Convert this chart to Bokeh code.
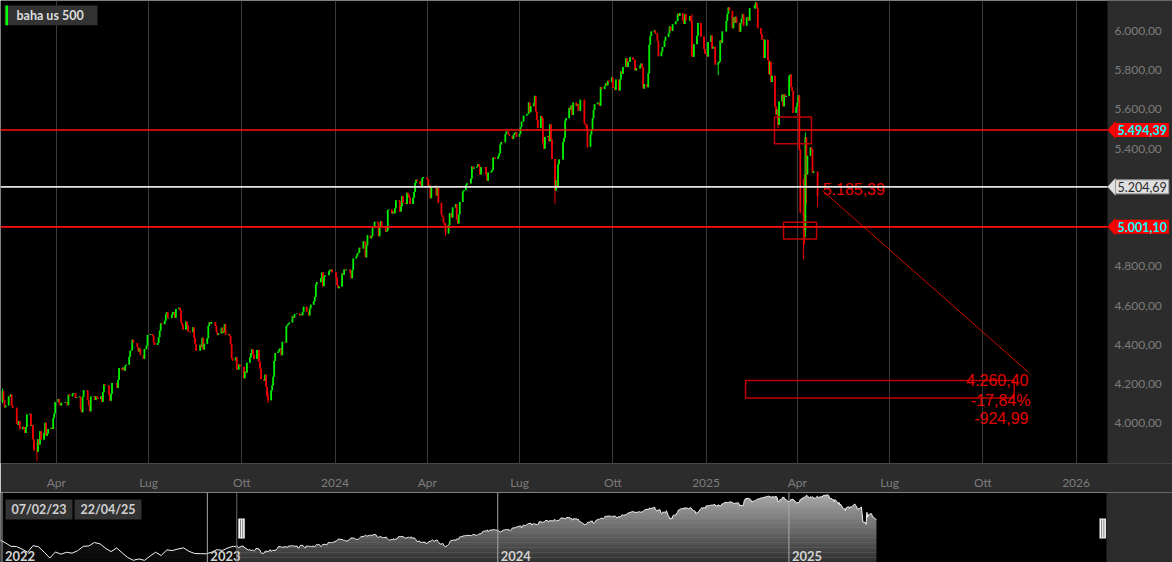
import numpy as np
import pandas as pd
from bokeh.plotting import figure
from bokeh.layouts import column
from bokeh.models import (ColumnDataSource, Span, Label, BoxAnnotation, PolyAnnotation,
                          FixedTicker, CustomJSTickFormatter, Range1d)
from bokeh.embed import file_html
from bokeh.resources import INLINE
from bokeh.core.properties import value

# ---------------- data ----------------
instrument = "baha us 500"
first_open = 4111.1  # close of the session before the first candle

close = [
    # 2023-02
    4164.0, 4117.9, 4081.5, 4090.5, 4137.3, 4136.1, 4147.6, 4090.4, 4079.1, 3997.3, 3991.1, 4012.3, 3970.0, 3982.2, 3970.2,
    # 2023-03
    3951.4, 3981.4, 4045.6, 4048.4, 3986.4, 3992.0, 3918.3, 3861.6, 3855.8, 3920.0, 3891.9, 3960.3, 3916.6, 3951.6, 4002.9,
    3937.0, 3948.7, 3971.0, 3977.5, 3971.3, 4027.8, 4050.8, 4109.3,
    # 2023-04
    4124.5, 4100.6, 4090.4, 4105.0, 4109.1, 4108.9, 4092.0, 4146.2, 4137.6, 4151.3, 4154.9, 4154.5, 4129.8, 4133.5, 4137.0,
    4071.6, 4056.0, 4135.4, 4169.5,
    # 2023-05
    4167.9, 4119.6, 4090.8, 4061.2, 4136.3, 4138.1, 4119.2, 4137.6, 4130.6, 4124.1, 4136.3, 4109.9, 4158.8, 4198.1, 4192.0,
    4192.6, 4145.6, 4115.2, 4151.3, 4205.5, 4205.5, 4179.8,
    # 2023-06
    4221.0, 4282.4, 4273.8, 4283.9, 4267.5, 4293.9, 4298.9, 4338.9, 4369.0, 4372.6, 4425.8, 4409.6, 4388.7, 4365.7, 4381.9,
    4348.3, 4328.8, 4378.4, 4376.9, 4396.4, 4450.4,
    # 2023-07
    4455.6, 4446.8, 4411.6, 4399.0, 4409.5, 4439.3, 4472.2, 4510.0, 4505.4, 4522.8, 4555.0, 4565.7, 4534.9, 4536.3, 4554.6,
    4567.5, 4566.8, 4537.4, 4582.2, 4589.0,
    # 2023-08
    4576.7, 4513.4, 4501.9, 4478.0, 4518.4, 4499.4, 4467.7, 4468.8, 4464.1, 4489.7, 4437.9, 4404.3, 4370.4, 4369.7, 4399.8,
    4387.6, 4436.0, 4376.3, 4405.7, 4433.3, 4497.6, 4514.9, 4507.7,
    # 2023-09
    4515.8, 4496.8, 4465.5, 4451.1, 4457.5, 4487.5, 4461.9, 4467.4, 4505.1, 4450.3, 4453.5, 4444.0, 4402.2, 4330.0, 4320.1,
    4337.4, 4273.5, 4274.5, 4299.7, 4288.1,
    # 2023-10
    4288.4, 4229.5, 4263.8, 4258.2, 4308.5, 4335.7, 4358.2, 4377.0, 4349.6, 4327.8, 4373.6, 4373.2, 4314.6, 4278.0, 4224.2,
    4217.0, 4247.7, 4186.8, 4137.2, 4117.4, 4166.8, 4193.8,
    # 2023-11
    4237.9, 4317.8, 4358.3, 4366.0, 4378.4, 4382.8, 4347.4, 4415.2, 4411.6, 4495.7, 4502.9, 4508.2, 4514.0, 4547.4, 4538.2,
    4556.6, 4559.3, 4550.4, 4554.9, 4550.6, 4567.8,
    # 2023-12
    4594.6, 4569.8, 4567.2, 4549.3, 4585.6, 4604.4, 4622.4, 4643.7, 4707.1, 4719.6, 4719.2, 4740.6, 4768.4, 4698.4, 4746.8,
    4754.6, 4774.8, 4781.6, 4783.4, 4769.8,
    # 2024-01
    4742.8, 4704.8, 4688.7, 4697.2, 4763.5, 4756.5, 4783.5, 4780.2, 4783.8, 4766.0, 4739.2, 4780.9, 4839.8, 4850.4, 4864.6,
    4868.6, 4894.2, 4891.0, 4927.9, 4925.0, 4845.7,
    # 2024-02
    4906.2, 4958.6, 4942.8, 4954.2, 4995.1, 4997.9, 5026.6, 5021.8, 4953.2, 5000.6, 5029.7, 5005.6, 4975.5, 4981.8, 5087.0,
    5088.8, 5069.5, 5078.2, 5069.8, 5096.3,
    # 2024-03
    5137.1, 5131.0, 5078.7, 5104.8, 5157.4, 5123.7, 5117.9, 5175.3, 5165.3, 5150.5, 5117.1, 5149.4, 5178.5, 5224.6, 5241.5,
    5234.2, 5218.2, 5203.6, 5248.5, 5254.4,
    # 2024-04
    5243.8, 5205.8, 5211.5, 5147.2, 5204.3, 5202.4, 5209.9, 5160.6, 5199.1, 5123.4, 5061.8, 5051.4, 5022.2, 5011.1, 4967.2,
    5010.6, 5070.6, 5071.6, 5048.4, 5100.0, 5116.2, 5035.7,
    # 2024-05
    5018.4, 5064.2, 5127.8, 5180.7, 5187.7, 5187.2, 5214.1, 5222.7, 5221.4, 5246.7, 5308.2, 5297.1, 5303.3, 5308.1, 5321.4,
    5307.0, 5267.8, 5304.7, 5306.0, 5267.0, 5235.5, 5277.5,
    # 2024-06
    5283.4, 5291.3, 5354.0, 5353.0, 5347.0, 5360.8, 5375.3, 5421.0, 5433.7, 5431.6, 5473.2, 5487.0, 5473.2, 5464.6, 5447.9,
    5469.3, 5477.9, 5482.9, 5460.5,
    # 2024-07
    5475.1, 5509.0, 5537.0, 5567.2, 5572.9, 5577.0, 5633.9, 5584.5, 5615.4, 5631.2, 5667.2, 5588.3, 5544.6, 5505.0, 5564.4,
    5555.7, 5427.1, 5399.2, 5459.1, 5463.5, 5436.4, 5522.3,
    # 2024-08
    5446.7, 5346.6, 5186.3, 5240.0, 5199.5, 5319.3, 5344.2, 5344.4, 5434.4, 5455.2, 5543.2, 5554.3, 5608.3, 5597.1, 5620.9,
    5570.6, 5634.6, 5616.8, 5625.8, 5592.2, 5592.0, 5648.4,
    # 2024-09
    5528.9, 5520.1, 5503.4, 5408.4, 5471.1, 5495.5, 5554.1, 5595.8, 5626.0, 5633.1, 5634.6, 5618.3, 5713.6, 5702.6, 5718.6,
    5732.9, 5722.3, 5745.4, 5738.2, 5762.5,
    # 2024-10
    5708.8, 5709.5, 5699.9, 5751.1, 5695.9, 5751.1, 5792.0, 5780.1, 5815.0, 5859.9, 5815.3, 5842.5, 5841.5, 5864.7, 5854.0,
    5851.2, 5797.4, 5809.9, 5808.1, 5823.5, 5832.9, 5813.7, 5705.5,
    # 2024-11
    5728.8, 5712.7, 5782.8, 5929.0, 5973.1, 5995.5, 6001.4, 5984.0, 5985.4, 5949.2, 5870.6, 5893.6, 5917.0, 5917.1, 5948.7,
    5969.3, 5987.4, 6021.6, 5998.7, 6032.4,
    # 2024-12
    6047.2, 6049.9, 6086.5, 6075.1, 6090.3, 6052.9, 6034.9, 6084.2, 6051.3, 6051.1, 6074.1, 6050.6, 5872.2, 5867.1, 5930.9,
    5974.1, 6040.0, 6037.6, 5970.8, 5906.9, 5881.6,
    # 2025-01
    5868.6, 5942.5, 5975.4, 5909.0, 5918.3, 5827.0, 5836.2, 5842.9, 5949.9, 5937.3, 5996.7, 6049.2, 6086.4, 6118.7, 6101.2,
    6012.3, 6067.7, 6039.3, 6071.2, 6040.5,
    # 2025-02
    5994.6, 6037.9, 6061.5, 6083.6, 6026.0, 6066.4, 6068.5, 6052.0, 6115.1, 6114.6, 6129.6, 6144.2, 6117.5, 6013.1, 5983.3,
    5955.3, 5956.1, 5861.6, 5954.5,
    # 2025-03
    5849.7, 5778.2, 5842.6, 5738.5, 5770.2, 5614.6, 5572.1, 5599.3, 5521.5, 5638.9, 5675.1, 5614.7, 5675.3, 5662.9, 5667.6,
    5767.6, 5776.7, 5712.2, 5693.3, 5580.9, 5611.9,
    # 2025-04
    5633.1, 5671.0, 5396.5, 5074.1, 5062.3, 4982.8, 5456.9, 5268.1, 5363.4, 5406.0, 5396.6, 5275.7, 5282.7, 5158.2,
]

market_holidays = [
    "2023-02-20", "2023-04-07", "2023-05-29", "2023-06-19", "2023-07-04", "2023-09-04", "2023-11-23", "2023-12-25",
    "2024-01-01", "2024-01-15", "2024-02-19", "2024-03-29", "2024-05-27", "2024-06-19", "2024-07-04", "2024-09-02",
    "2024-11-28", "2024-12-25", "2025-01-01", "2025-01-09", "2025-01-20", "2025-02-17", "2025-04-18",
]

wick_dates = ["2023-02-07", "2023-03-13", "2023-10-27", "2024-04-19", "2024-07-16", "2024-08-05", "2024-09-06",
              "2024-12-18", "2025-01-13", "2025-02-19", "2025-03-13", "2025-04-03", "2025-04-04", "2025-04-07",
              "2025-04-08", "2025-04-09", "2025-04-10", "2025-04-21"]
wick_low = [4102.0, 3808.9, 4103.8, 4953.6, 5631.0, 5119.3, 5402.6, 5867.8, 5773.3, 6111.0, 5504.7, 5390.8, 5069.9,
            4835.0, 4910.4, 4948.4, 5115.3, 5101.6]
wick_high = [4176.5, 3905.0, 4156.7, 5019.0, 5669.7, 5250.9, 5522.5, 6085.2, 5838.0, 6147.4, 5597.8, 5500.7, 5292.1,
             5246.6, 5267.5, 5481.3, 5381.5, 5282.7]

last_price = 5204.69
level_high = 5494.39
level_low = 5001.10
target_from = 5185.39
target_to = 4260.40
target_dates = ["2025-04-26", "2025-11-15"]

zone_left = ["2025-03-09 12:00", "2025-03-18 10:00", "2025-02-09"]
zone_right = ["2025-04-15", "2025-04-20", "2025-11-01"]
zone_top = [5560.0, 5025.0, 4218.0]
zone_bottom = [5424.0, 4939.0, 4129.0]

nav_week_dates = ["2022-04-14", "2022-04-22", "2022-04-29", "2022-05-06", "2022-05-13", "2022-05-20", "2022-05-27",
                  "2022-06-03", "2022-06-10", "2022-06-17", "2022-06-24", "2022-07-01", "2022-07-08", "2022-07-15",
                  "2022-07-22", "2022-07-29", "2022-08-05", "2022-08-12", "2022-08-19", "2022-08-26", "2022-09-02",
                  "2022-09-09", "2022-09-16", "2022-09-23", "2022-09-30", "2022-10-07", "2022-10-14", "2022-10-21",
                  "2022-10-28", "2022-11-04", "2022-11-11", "2022-11-18", "2022-11-25", "2022-12-02", "2022-12-09",
                  "2022-12-16", "2022-12-23", "2022-12-30", "2023-01-06", "2023-01-13", "2023-01-20", "2023-01-27",
                  "2023-02-03", "2023-02-06"]
nav_week_close = [4392.6, 4271.8, 4131.9, 4123.3, 4023.9, 3901.4, 4158.2, 4108.5, 3900.9, 3674.8, 3911.7, 3825.3,
                  3899.4, 3863.2, 3961.6, 4130.3, 4145.2, 4280.2, 4228.5, 4057.7, 3924.3, 4067.4, 3873.3, 3693.2,
                  3585.6, 3639.7, 3583.1, 3752.8, 3901.1, 3770.6, 3992.9, 3965.3, 4026.1, 4071.7, 3934.4, 3852.4,
                  3844.8, 3839.5, 3895.1, 3999.1, 3972.6, 4070.6, 4136.5, 4111.1]

y_ticks = [4000, 4200, 4400, 4600, 4800, 5000, 5200, 5400, 5600, 5800, 6000]
x_tick_dates = ["2023-04-01", "2023-07-01", "2023-10-01", "2024-01-01", "2024-04-01", "2024-07-01", "2024-10-01",
                "2025-01-01", "2025-04-01", "2025-07-01", "2025-10-01", "2026-01-01"]
nav_years = ["2022", "2023", "2024", "2025"]
range_labels = ["07/02/23", "22/04/25"]


# ---------------- helpers ----------------
def ms(s):
    return pd.Timestamp(s).value / 1e6


def it(v, dec=2):
    s = f"{v:,.{dec}f}"
    return s.replace(",", "X").replace(".", ",").replace("X", ".")


DAY = 86400000.0
FONT = "Lato"
PANEL = "#2c2c2c"

dates = pd.bdate_range("2023-02-07", "2025-04-21", freq="C", holidays=market_holidays)
assert len(dates) == len(close), (len(dates), len(close))
xs = [ms(d) for d in dates]
opens = [first_open] + close[:-1]
highs = [max(o, c) for o, c in zip(opens, close)]
lows = [min(o, c) for o, c in zip(opens, close)]
idx = {d.strftime("%Y-%m-%d"): i for i, d in enumerate(dates)}
for d, lo, hi in zip(wick_dates, wick_low, wick_high):
    i = idx[d]
    lows[i] = min(lows[i], lo)
    highs[i] = max(highs[i], hi)
colors = ["#00f000" if c >= o else "#f00000" for o, c in zip(opens, close)]
src = ColumnDataSource(dict(x=xs, top=[max(o, c) for o, c in zip(opens, close)],
                            bottom=[min(o, c) for o, c in zip(opens, close)],
                            high=highs, low=lows, color=colors))

# ---------------- main chart ----------------
W, H_MAIN, H_NAV = 1172, 492, 70
RIGHT, BOTTOM = 65, 25
FRAME_W, FRAME_H = W - RIGHT, H_MAIN - BOTTOM          # plotting area left of the price panel
Y_BOT, Y_TOP = 3795.5, 6154.0
UPP = (Y_TOP - Y_BOT) / FRAME_H
X0, X1 = ms("2023-02-05"), ms("2026-02-01")
X1_FULL = X1 + (X1 - X0) / FRAME_W * RIGHT              # frame also spans the price panel

p = figure(width=W, height=H_MAIN, output_backend="svg", toolbar_location=None,
           x_range=Range1d(X0, X1_FULL), y_range=Range1d(Y_BOT, Y_TOP), y_axis_type=None,
           min_border_left=0, min_border_top=0, min_border_right=0, min_border_bottom=BOTTOM,
           background_fill_color="#000000", border_fill_color=PANEL, outline_line_color=None)

xt = [ms(d) for d in x_tick_dates]
p.xaxis.ticker = FixedTicker(ticks=xt)
p.xaxis.formatter = CustomJSTickFormatter(code="""
const d = new Date(tick);
const m = d.getUTCMonth();
const n = ['Gen','Feb','Mar','Apr','Mag','Giu','Lug','Ago','Set','Ott','Nov','Dic'];
return m == 0 ? String(d.getUTCFullYear()) : n[m];
""")
ax = p.xaxis[0]
ax.axis_line_color = None
ax.major_tick_line_color = None
ax.minor_tick_line_color = None
ax.major_label_text_font = FONT
ax.major_label_text_font_size = "12px"
ax.major_label_text_color = "#7c7c7c"
ax.major_label_standoff = 5
p.xgrid.ticker = FixedTicker(ticks=xt)
p.xgrid.grid_line_color = "#3a3a3a"
p.ygrid.ticker = FixedTicker(ticks=y_ticks)
p.ygrid.grid_line_color = "#3a3a3a"

# candles
p.segment(x0="x", y0="low", x1="x", y1="high", line_color="color", line_width=1, source=src)
p.vbar(x="x", width=1.7 * DAY, top="top", bottom="bottom", fill_color="color", line_color=None, source=src)

# horizontal levels
p.add_layout(Span(location=level_high, dimension="width", line_color="#ff1010", line_width=1.6))
p.add_layout(Span(location=last_price, dimension="width", line_color="#e4e4e4", line_width=1.6))
p.add_layout(Span(location=level_low, dimension="width", line_color="#ff1010", line_width=1.6))

# zones
p.quad(left=[ms(d) for d in zone_left], right=[ms(d) for d in zone_right], top=zone_top, bottom=zone_bottom,
       fill_color=None, line_color="#c00000", line_width=1.5)

# projection
tx = [ms(d) for d in target_dates]
p.line(x=tx, y=[target_from, target_to], line_color="#d00000", line_width=1)
pct = (target_to - target_from) / target_from * 100
red_font = dict(text_font=value("Liberation Sans"), text_font_size="16px", text_color="#e60000")
p.text(x=[tx[0]], y=[target_from + 9], text=[it(target_from)], text_align="left",
       text_baseline="alphabetic", **red_font)
p.text(x=[tx[1], tx[1], tx[1]], y=[target_to - 39, target_to - 142, target_to - 233],
       text=[it(target_to), it(pct) + "%", it(target_to - target_from)],
       x_offset=[0, 2, 0], text_align="right", text_baseline="middle", **red_font)

# price panel (right axis)
p.add_layout(BoxAnnotation(left=FRAME_W, left_units="screen", fill_color=PANEL, fill_alpha=1,
                           line_color=None))
for t in y_ticks:
    p.add_layout(Label(x=FRAME_W + 7, y=t, x_units="screen", y_units="data", text=it(t),
                       text_font=FONT, text_font_size="12px", text_color="#7c7c7c",
                       text_baseline="middle"))


def tag(yv, txt, bg, fg, bold, border=None):
    h = 9 * UPP
    p.add_layout(PolyAnnotation(xs=[FRAME_W, FRAME_W + 8, FRAME_W + 8], ys=[yv, yv + h, yv - h],
                                xs_units="screen", ys_units="data", fill_color=bg, fill_alpha=1,
                                line_color=None))
    p.add_layout(Label(x=FRAME_W + 8, y=yv, x_units="screen", y_units="data", text=txt,
                       text_font=FONT, text_font_size="12.5px",
                       text_font_style="bold" if bold else "normal", text_color=fg,
                       text_baseline="middle", background_fill_color=bg, background_fill_alpha=1,
                       border_line_color=border, padding=2))


tag(level_high, it(level_high), "#ff0000", "#00ffff", True)
tag(last_price, it(last_price), "#e0e0e0", "#2a2a2a", False, "#9a9a9a")
tag(level_low, it(level_low), "#ff0000", "#00ffff", True)

# legend chip
lg_top, lg_bot = Y_TOP - 5 * UPP, Y_TOP - 25 * UPP
p.add_layout(BoxAnnotation(left=4, right=97, left_units="screen", right_units="screen", top=lg_top,
                           bottom=lg_bot, fill_color="#333333", fill_alpha=1, line_color=None))
p.add_layout(BoxAnnotation(left=5, right=7.5, left_units="screen", right_units="screen", top=lg_top,
                           bottom=lg_bot, fill_color="#00ff00", fill_alpha=1, line_color=None))
p.add_layout(Label(x=16, y=(lg_top + lg_bot) / 2, x_units="screen", y_units="data", text=instrument,
                   text_font=FONT, text_font_size="12.5px", text_font_style="bold", text_color="#dedede",
                   text_baseline="middle"))

# ---------------- navigator ----------------
N0 = ms("2022-04-16")
N1 = ms("2026-02-05 10:00")
MSPP = (N1 - N0) / FRAME_W
N1_FULL = N1 + MSPP * RIGHT
NY0, NY1 = 3500.0, 6230.0
NUPP = (NY1 - NY0) / H_NAV

nav = figure(width=W, height=H_NAV, output_backend="svg", toolbar_location=None,
             x_range=Range1d(N0, N1_FULL), y_range=Range1d(NY0, NY1), x_axis_type=None, y_axis_type=None,
             min_border_left=0, min_border_top=0, min_border_right=0, min_border_bottom=0,
             background_fill_color="#000000", border_fill_color=PANEL, outline_line_color=None)
nav.grid.visible = False

pre_x = [ms(d) for d in nav_week_dates]
nav.varea(x=pre_x + [xs[0]], y1=NY0, y2=nav_week_close + [close[0]], fill_color="#202020")
nav.varea(x=xs, y1=NY0, y2=close, fill_color="#ababab")
bands = np.linspace(NY0, NY1, 29)
alphas = np.linspace(0.72, 0.0, 28)
nav.quad(left=N0, right=N1, bottom=bands[:-1], top=bands[1:], fill_color="#000000", fill_alpha=alphas,
         line_color=None)
nav.line(x=pre_x + xs, y=nav_week_close + close, line_color="#f2f2f2", line_width=1)

year_x = [N0 + 1.5 * MSPP] + [ms(f"{y}-01-01") for y in nav_years[1:]]
for yx in year_x:
    nav.add_layout(Span(location=yx, dimension="height", line_color="#a8a8a8", line_width=1))
sel0 = ms("2023-02-07")
nav.add_layout(Span(location=sel0, dimension="height", line_color="#6a6a6a", line_width=1))
nav.text(x=year_x, y=[NY0 + 2 * NUPP] * 4, text=nav_years, x_offset=3, text_font=value(FONT),
         text_font_size="13px", text_font_style="bold", text_color="#d2d2d2", text_baseline="bottom")

# right panel of the navigator
nav.add_layout(BoxAnnotation(left=FRAME_W - 1, left_units="screen", fill_color=PANEL, fill_alpha=1,
                             line_color=None))

# handles
h_top, h_bot = NY1 - 26 * NUPP, NY1 - 46 * NUPP
for hx in [(sel0 - N0) / MSPP + 1.5, (X1 - N0) / MSPP - 4.5]:
    nav.add_layout(BoxAnnotation(left=hx, right=hx + 6.5, left_units="screen", right_units="screen",
                                 top=h_top, bottom=h_bot, fill_color="#f4f4f4", fill_alpha=1,
                                 line_color="#777777", line_width=0.5))
    for sx in (hx + 1.8, hx + 4.0):
        nav.add_layout(BoxAnnotation(left=sx, right=sx + 0.8, left_units="screen", right_units="screen",
                                     top=h_top - NUPP, bottom=h_bot + NUPP, fill_color="#666666",
                                     fill_alpha=1, line_color=None))

# range chips
c_top, c_bot = NY1 - 7 * NUPP, NY1 - 27 * NUPP
for (l, r), txt in zip([(5, 72), (74, 141)], range_labels):
    nav.add_layout(BoxAnnotation(left=l, right=r, left_units="screen", right_units="screen", top=c_top,
                                 bottom=c_bot, fill_color="#333333", fill_alpha=1, line_color=None))
    nav.add_layout(Label(x=(l + r) / 2, y=(c_top + c_bot) / 2, x_units="screen", y_units="data", text=txt,
                         text_font=FONT, text_font_size="12.5px", text_font_style="bold",
                         text_color="#d0d0d0", text_align="center", text_baseline="middle"))

layout = column(p, nav, spacing=0)
open("out.html", "w").write(file_html(layout, INLINE))
